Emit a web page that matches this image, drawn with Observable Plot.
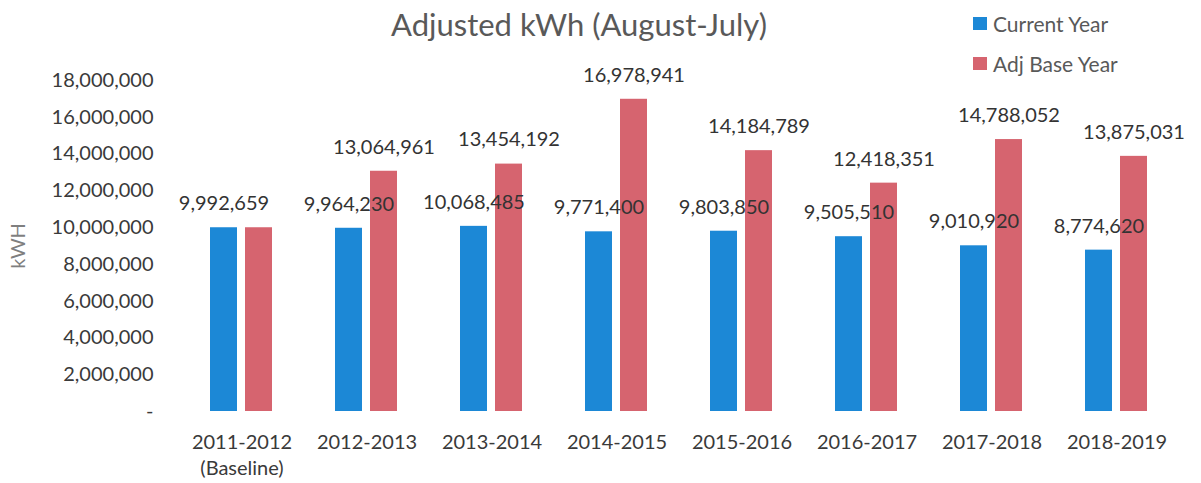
<!DOCTYPE html>
<html>
<head>
<meta charset="utf-8">
<script src="https://cdn.jsdelivr.net/npm/d3@7"></script>
<script src="https://cdn.jsdelivr.net/npm/@observablehq/plot@0.6"></script>
<style>
  html, body { margin: 0; padding: 0; background: #fff; }
  #wrap { position: relative; width: 1201px; height: 483px; font-family: Lato, "Open Sans", sans-serif; }
  #title { position: absolute; left: 0; width: 1158px; top: 4px; text-align: center; font-size: 31px; color: #595959; line-height: 40px; }
  #legend { position: absolute; left: 973px; top: 3px; }
  .item { display: flex; align-items: center; height: 40px; font-size: 21px; color: #595959; }
  .sw { width: 14px; height: 13px; margin-right: 6px; }
  #chart svg g[aria-label="y-axis label"] text { fill: #7f7f7f; }
</style>
</head>
<body>
<div id="wrap">
  <div id="chart"></div>
  <div id="title"></div>
  <div id="legend"></div>
</div>
<script>
const titleText = "Adjusted kWh (August-July)";
const categories = ["2011-2012", "2012-2013", "2013-2014", "2014-2015", "2015-2016", "2016-2017", "2017-2018", "2018-2019"];
const categoryLabels = ["2011-2012\n(Baseline)", "2012-2013", "2013-2014", "2014-2015", "2015-2016", "2016-2017", "2017-2018", "2018-2019"];
const series = ["Current Year", "Adj Base Year"];
const currentYear = [9992659, 9964230, 10068485, 9771400, 9803850, 9505510, 9010920, 8774620];
const adjBaseYear = [9992659, 13064961, 13454192, 16978941, 14184789, 12418351, 14788052, 13875031];
const yTicks = [0, 2000000, 4000000, 6000000, 8000000, 10000000, 12000000, 14000000, 16000000, 18000000];
const yLabel = "kWH";
const colors = ["#1c88d6", "#d6646f"];

const rows = categories.flatMap((c, i) => [
  {category: c, series: series[0], value: currentYear[i], showLabel: true},
  {category: c, series: series[1], value: adjBaseYear[i], showLabel: i > 0}
]);

const fmt = d3.format(",");

const chart = Plot.plot({
  width: 1201,
  height: 483,
  marginLeft: 178,
  marginRight: 21,
  marginTop: 80,
  marginBottom: 72,
  style: {fontFamily: "Lato, 'Open Sans', sans-serif", fontSize: "20px", color: "#3a3a3a", background: "#fff"},
  fx: {domain: categories, padding: 0, label: null},
  x: {domain: series, paddingInner: 0.222, paddingOuter: 0.85, axis: null},
  y: {domain: [0, 18000000], label: null},
  color: {domain: series, range: colors},
  marks: [
    Plot.axisY({
      ticks: yTicks,
      tickSize: 0,
      tickPadding: 26,
      tickFormat: d => d === 0 ? "-" : fmt(d),
      label: yLabel,
      labelAnchor: "center",
      labelArrow: "none",
      labelOffset: 169,
      fontSize: 20
    }),
    Plot.axisFx({
      anchor: "bottom",
      tickSize: 0,
      tickPadding: 19,
      lineHeight: 1.3,
      label: null,
      fontSize: 20,
      tickFormat: d => categoryLabels[categories.indexOf(d)]
    }),
    Plot.barY(rows, {fx: "category", x: "series", y: "value", fill: "series"}),
    Plot.text(rows.filter(d => d.showLabel), {
      fx: "category", x: "series", y: "value",
      text: d => fmt(d.value),
      dy: -24,
      fill: "#333",
      fontSize: 20
    })
  ]
});

document.getElementById("chart").appendChild(chart);
document.getElementById("title").textContent = titleText;
const legend = document.getElementById("legend");
series.forEach((s, i) => {
  const it = document.createElement("div");
  it.className = "item";
  const sw = document.createElement("div");
  sw.className = "sw";
  sw.style.background = colors[i];
  const tx = document.createElement("span");
  tx.textContent = s;
  it.appendChild(sw);
  it.appendChild(tx);
  legend.appendChild(it);
});
</script>
</body>
</html>
